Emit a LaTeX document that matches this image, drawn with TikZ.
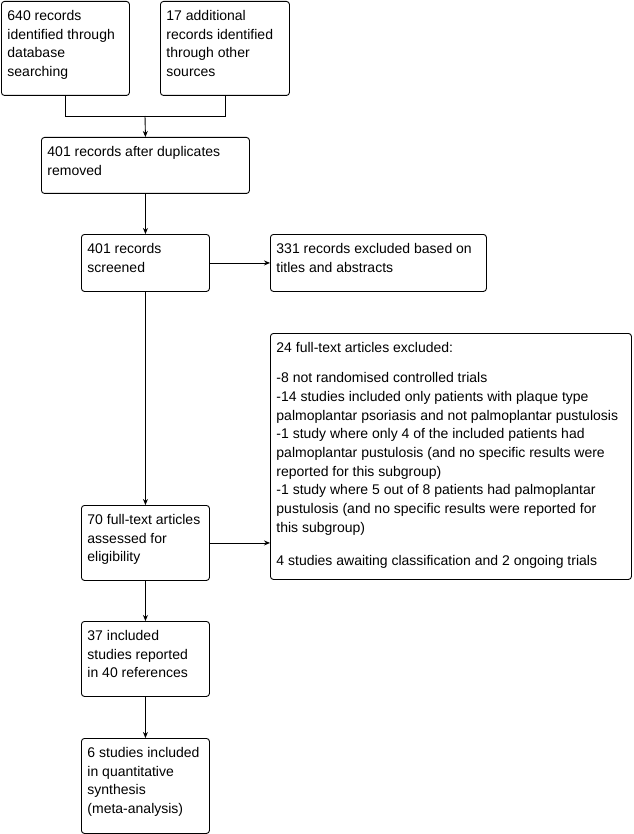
\documentclass[tikz,border=0pt]{standalone}
\usepackage{fontspec}
\setmainfont{Liberation Sans}
\usetikzlibrary{arrows.meta}

% box text: width, height, lines
\newcommand{\boxtext}[3]{\hspace*{6pt}\parbox[t][#2][t]{\dimexpr#1-6pt\relax}{\raggedright\rule{0pt}{19pt}#3}}

\tikzset{
  flowbox/.style={draw, line width=0.9pt, rounded corners=3pt, anchor=north west, inner sep=0pt,
    font=\fontsize{14}{18.7}\selectfont},
  flowline/.style={line width=0.9pt},
  flowarrow/.style={line width=0.9pt, -{Stealth[length=6pt,width=5pt]}},
}

\begin{document}
\begin{tikzpicture}[x=1pt,y=-1pt]
\useasboundingbox (0,0) rectangle (633,834);

% identification
\node[flowbox] (dbrec) at (1,1) {\boxtext{128pt}{94pt}{640 records\\identified through\\database\\searching}};
\node[flowbox] (otherrec) at (160,1) {\boxtext{129pt}{94pt}{17 additional\\records identified\\through other\\sources}};
\node[flowbox] (dupl) at (41,137) {\boxtext{208pt}{56pt}{401 records after duplicates\\removed}};

% screening
\node[flowbox] (screened) at (81,234) {\boxtext{128pt}{57pt}{401 records\\screened}};
\node[flowbox] (excl) at (270,234) {\boxtext{216pt}{57pt}{331 records excluded based on\\titles and abstracts}};

% eligibility
\node[flowbox] (fulltext) at (81,505) {\boxtext{128pt}{75pt}{70 full-text articles\\assessed for\\eligibility}};
\node[flowbox] (ftexcl) at (270,333) {\boxtext{361pt}{246pt}{24 full-text articles excluded:\\[11.5pt]
-8 not randomised controlled trials\\
-14 studies included only patients with plaque type\\
palmoplantar psoriasis and not palmoplantar pustulosis\\
-1 study where only 4 of the included patients had\\
palmoplantar pustulosis (and no specific results were\\
reported for this subgroup)\\
-1 study where 5 out of 8 patients had palmoplantar\\
pustulosis (and no specific results were reported for\\
this subgroup)\\[15pt]
4 studies awaiting classification and 2 ongoing trials}};

% included
\node[flowbox] (incl) at (81,621) {\boxtext{128pt}{75pt}{37 included\\studies reported\\in 40 references}};
\node[flowbox] (meta) at (81,738) {\boxtext{128pt}{95pt}{6 studies included\\in quantitative\\synthesis\\(meta-analysis)}};

\coordinate (merge) at (145,116);
\draw[flowline] (dbrec.south) |- (merge);
\draw[flowline] (otherrec.south) |- (merge);
\draw[flowarrow] (merge) -- (dupl.north);
\draw[flowarrow] (dupl.south) -- (screened.north);
\draw[flowarrow] (screened.east) -- (excl.west);
\draw[flowarrow] (screened.south) -- (fulltext.north);
\draw[flowarrow] (fulltext.east) -- (ftexcl.west |- fulltext.east);
\draw[flowarrow] (fulltext.south) -- (incl.north);
\draw[flowarrow] (incl.south) -- (meta.north);
\end{tikzpicture}
\end{document}
